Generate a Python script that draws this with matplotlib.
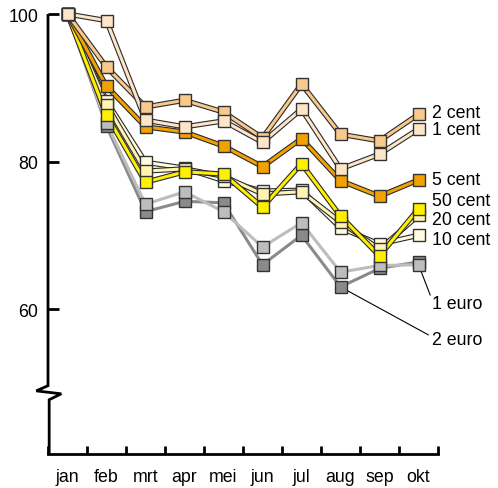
import matplotlib
matplotlib.use("Agg")
from matplotlib import pyplot as plt
import matplotlib.patheffects as pe

plt.rcParams['font.family'] = ['Liberation Sans', 'DejaVu Sans']

months = ["jan", "feb", "mrt", "apr", "mei", "jun", "jul", "aug", "sep", "okt"]

cent2 = [100, 92.8, 87.4, 88.3, 86.7, 83.2, 90.5, 83.7, 82.8, 86.4]
cent1 = [100, 99.1, 85.6, 84.7, 85.5, 82.6, 87.1, 79.0, 81.0, 84.4]
cent5 = [100, 90.2, 84.7, 84.0, 82.1, 79.3, 83.1, 77.4, 75.3, 77.5]
cent50 = [100, 86.3, 77.2, 78.6, 78.3, 73.8, 79.7, 72.6, 67.2, 73.6]
cent20 = [100, 87.7, 78.7, 79.0, 78.0, 75.6, 75.9, 71.8, 68.1, 72.7]
cent10 = [100, 88.2, 79.9, 79.1, 77.4, 76.0, 76.1, 71.0, 68.8, 70.0]
euro1 = [100, 85.2, 74.2, 75.9, 73.2, 68.4, 71.7, 65.0, 65.9, 66.0]
euro2 = [100, 84.8, 73.2, 74.6, 74.4, 66.0, 70.0, 63.0, 65.5, 66.4]

# drawing order: bottom first
series = [
    ("2 euro", euro2, "#8a8a8a", False),
    ("1 euro", euro1, "#bdbdbd", False),
    ("10 cent", cent10, "#fffbdf", True),
    ("20 cent", cent20, "#fff4b4", True),
    ("50 cent", cent50, "#fff000", True),
    ("5 cent", cent5, "#f2a200", True),
    ("2 cent", cent2, "#f8c88c", True),
    ("1 cent", cent1, "#fde6c8", True),
]

# label y positions (data units) at the right end
labels_right = {"2 cent": 86.7, "1 cent": 84.4, "5 cent": 77.6,
                "50 cent": 74.7, "20 cent": 72.1, "10 cent": 69.4}

fs = 12.8

fig = plt.figure(figsize=(4.98, 4.89), dpi=100)
ax = fig.add_axes([48 / 498, 34 / 489, 390 / 498, 440 / 489])
x = list(range(len(months)))

for name, vals, col, outline in series:
    if outline:
        effects = [pe.Stroke(linewidth=3.8, foreground="#2a2a2a"), pe.Normal()]
        ax.plot(x, vals, color=col, lw=2.2, clip_on=False, path_effects=effects,
                solid_joinstyle="miter", zorder=3)
    else:
        ax.plot(x, vals, color=col, lw=2.2, clip_on=False, zorder=2)
    ax.plot(x, vals, ls="none", marker="s", ms=8.3, mfc=col, mec="#333333",
            mew=1.0, clip_on=False, zorder=4)

for name, yl in labels_right.items():
    ax.text(9.35, yl, name, fontsize=fs, va="center", ha="left")

# euro callouts
ax.plot([9.03, 9.3], [65.6, 61.9], color="black", lw=0.8, clip_on=False)
ax.text(9.35, 60.7, "1 euro", fontsize=fs, va="center", ha="left")
ax.plot([7.0, 9.25], [63.0, 56.5], color="black", lw=0.8, clip_on=False)
ax.text(9.35, 55.8, "2 euro", fontsize=fs, va="center", ha="left")

ax.set_xlim(-0.5, 9.5)
ax.set_ylim(40.34, 100)

for s in ["top", "right", "left"]:
    ax.spines[s].set_visible(False)
ax.spines["bottom"].set_linewidth(2)

# left axis with break
tr = ax.get_yaxis_transform()
ax.plot([0, 0, -0.03, 0.034, 0.003, 0.003], [100, 49.6, 48.9, 48.5, 47.7, 40.34],
        color="black", lw=2, transform=tr, clip_on=False, solid_joinstyle="miter",
        solid_capstyle="butt")

ax.set_yticks([60, 80, 100])
ax.set_yticklabels(["60", "80", "100"])
ax.tick_params(axis="y", direction="in", length=8, width=2, pad=7, labelsize=fs)

ax.set_xticks(x)
ax.set_xticklabels(months)
ax.set_xticks([i - 0.5 for i in range(len(months) + 1)], minor=True)
ax.tick_params(axis="x", which="major", length=0, pad=10, labelsize=fs)
ax.tick_params(axis="x", which="minor", direction="in", length=6, width=2)

fig.savefig("out.png", dpi=100)
